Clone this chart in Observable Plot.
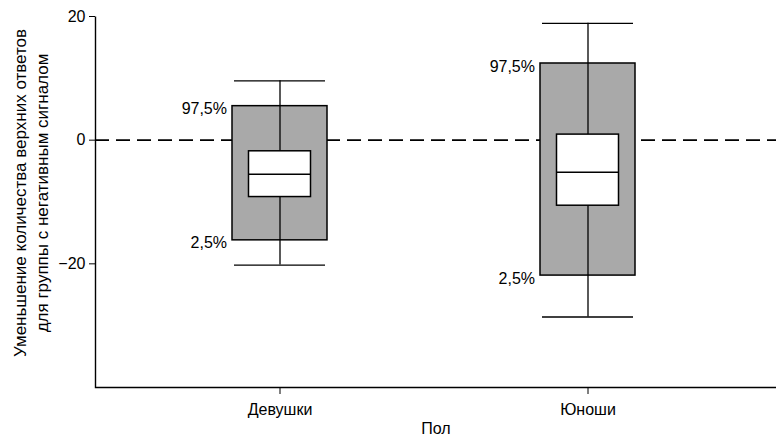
<!DOCTYPE html>
<html>
<head>
<meta charset="utf-8">
<script src="https://cdn.jsdelivr.net/npm/d3@7"></script>
<script src="https://cdn.jsdelivr.net/npm/@observablehq/plot@0.6"></script>
<style>
  html, body { margin: 0; padding: 0; background: #fff; }
  #chart svg { display: block; }
</style>
</head>
<body>
<div id="chart"></div>
<script>
// Data
const groups = ["Девушки", "Юноши"];
const whiskerLow = [-20.2, -28.6];
const pct2_5 = [-16.2, -21.9];
const q1 = [-9.2, -10.6];
const median = [-5.5, -5.2];
const q3 = [-1.8, 0.9];
const pct97_5 = [5.5, 12.4];
const whiskerHigh = [9.6, 18.9];
const yTicks = [-20, 0, 20];
const yLabel = "Уменьшение количества верхних ответов\nдля группы с негативным сигналом";
const xLabel = "Пол";
const lowLabel = "2,5%";
const highLabel = "97,5%";

const rows = groups.map((g, i) => ({
  group: g, wlo: whiskerLow[i], lo: pct2_5[i], q1: q1[i], med: median[i],
  q3: q3[i], hi: pct97_5[i], whi: whiskerHigh[i]
}));

const W = 776, H = 438, mL = 95, mR = 0, mT = 16, mB = 51;
const fw = W - mL - mR, fh = H - mT - mB;
const font = "'Liberation Sans', Arial, sans-serif";

const chart = Plot.plot({
  width: W,
  height: H,
  marginLeft: mL,
  marginRight: mR,
  marginTop: mT,
  marginBottom: mB,
  style: { fontFamily: font, fontSize: "16px", color: "#000", background: "#fff" },
  x: {
    type: "band",
    domain: groups,
    paddingInner: 0.6916,
    paddingOuter: 0.4513,
    align: 0.493,
    label: null
  },
  y: {
    domain: [-40, 20],
    label: null
  },
  marks: [
    Plot.ruleY([0], { strokeDasharray: "14,7", strokeWidth: 1.6, stroke: "#000" }),
    Plot.barY(rows, { x: "group", y1: "lo", y2: "hi", fill: "#a9a9a9", stroke: "#000", strokeWidth: 1.5 }),
    Plot.ruleX(rows, { x: "group", y1: "wlo", y2: "whi", stroke: "#000", strokeWidth: 1.3 }),
    Plot.barY(rows, { x: "group", y1: "q1", y2: "q3", fill: "#fff", stroke: "#000", strokeWidth: 1.5, insetLeft: 16.5, insetRight: 16.5 }),
    Plot.tickY(rows, { x: "group", y: "med", stroke: "#000", strokeWidth: 1.5, insetLeft: 16.5, insetRight: 16.5 }),
    Plot.tickY(rows, { x: "group", y: "wlo", stroke: "#000", strokeWidth: 1.3, insetLeft: 2, insetRight: 2 }),
    Plot.tickY(rows, { x: "group", y: "whi", stroke: "#000", strokeWidth: 1.3, insetLeft: 2, insetRight: 2 }),
    Plot.text(rows, { x: "group", y: "hi", text: () => highLabel, textAnchor: "end", dx: -53, dy: 3, fill: "#000" }),
    Plot.text(rows, { x: "group", y: "lo", text: () => lowLabel, textAnchor: "end", dx: -53, dy: 3, fill: "#000" }),
    Plot.axisY({ ticks: yTicks, tickSize: 6, tickPadding: 4, label: null }),
    Plot.axisX({ tickSize: 7, tickPadding: 9, label: null }),
    // left and bottom axis lines: frame stroked only along bottom and left edges
    Plot.frame({ stroke: "#000", strokeWidth: 1.4, strokeDasharray: `0 ${fw + fh} ${fw + fh}` }),
    Plot.text([yLabel], { frameAnchor: "left", text: d => d, rotate: -90, textAnchor: "middle", lineAnchor: "middle", dx: -66, dy: -9, lineHeight: 1.3, fontSize: 17, fill: "#000" }),
    Plot.text([xLabel], { frameAnchor: "bottom", text: d => d, lineAnchor: "middle", dy: 41, fill: "#000" })
  ]
});

document.getElementById("chart").appendChild(chart);
</script>
</body>
</html>
